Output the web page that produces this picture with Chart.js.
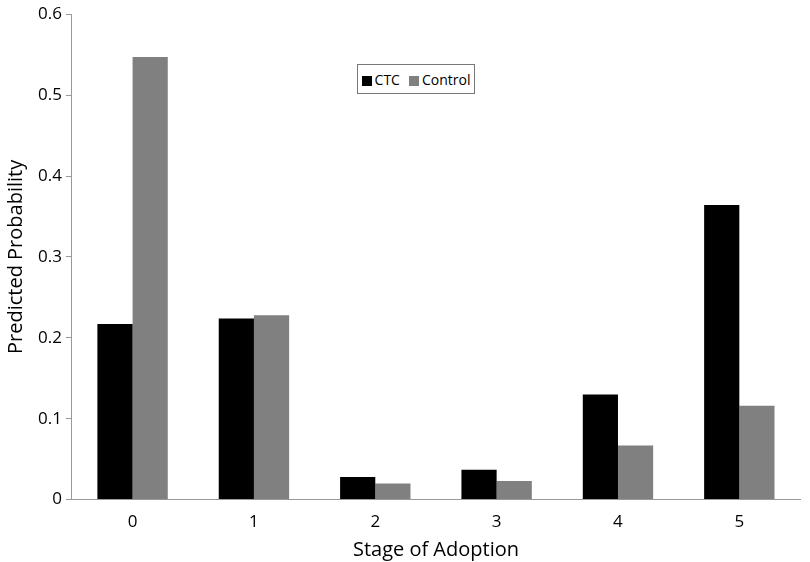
<!DOCTYPE html>
<html>
<head>
<meta charset="utf-8">
<script src="https://cdn.jsdelivr.net/npm/chart.js@4"></script>
<style>
  body { margin: 0; background: #fff; }
  #wrap { position: relative; width: 810px; height: 562px; }
  #legend {
    position: absolute; left: 357px; top: 64px; width: 118px; height: 30px;
    border: 1px solid #777; background: #fff; box-sizing: border-box;
    font-family: "Open Sans", sans-serif; font-size: 14px; color: #000;
    display: flex; align-items: center; justify-content: center; gap: 9px;
  }
  #legend span.sw { display: inline-block; width: 10px; height: 10px; margin-right: 3px; vertical-align: -1px; }
</style>
</head>
<body>
<div id="wrap">
  <canvas id="myChart" width="810" height="562"></canvas>
  <div id="legend"></div>
</div>
<script>
const stages = ["0", "1", "2", "3", "4", "5"];
const ctcValues = [0.217, 0.224, 0.028, 0.037, 0.130, 0.364];
const controlValues = [0.547, 0.228, 0.020, 0.023, 0.067, 0.116];
const seriesNames = ["CTC", "Control"];
const seriesColors = ["#000000", "#808080"];

function buildLegend() {
    const legend = document.getElementById('legend');
    legend.innerHTML = seriesNames.map((name, i) =>
        '<div><span class="sw" style="background:' + seriesColors[i] + '"></span>' + name + '</div>'
    ).join('');
}

document.addEventListener('DOMContentLoaded', function () {
    buildLegend();
    const axisFont = { family: "'Open Sans', sans-serif", size: 17 };
    const titleFont = { family: "'Open Sans', sans-serif", size: 20 };
    new Chart("myChart", {
        type: "bar",
        data: {
            labels: stages,
            datasets: [{
                label: seriesNames[0],
                data: ctcValues,
                backgroundColor: seriesColors[0]
            }, {
                label: seriesNames[1],
                data: controlValues,
                backgroundColor: seriesColors[1]
            }]
        },
        options: {
            responsive: false,
            animation: false,
            layout: { padding: { top: 0, right: 10, left: 0, bottom: 0 } },
            datasets: { bar: { categoryPercentage: 0.58, barPercentage: 1.0 } },
            plugins: { legend: { display: false }, tooltip: { enabled: false } },
            scales: {
                x: {
                    grid: { display: false, drawOnChartArea: false, offset: true, tickLength: 6, color: "#999" },
                    border: { color: "#999" },
                    ticks: { color: "#000", font: axisFont, padding: 6 },
                    title: { display: true, text: "Stage of Adoption", color: "#000", font: titleFont, padding: { top: 0, bottom: 0 } }
                },
                y: {
                    min: 0,
                    max: 0.6,
                    grid: { drawOnChartArea: false, tickLength: 6, color: "#999" },
                    border: { color: "#999" },
                    ticks: { stepSize: 0.1, color: "#000", font: axisFont, padding: 4 },
                    title: { display: true, text: "Predicted Probability", color: "#000", font: titleFont, padding: { bottom: 6 } }
                }
            }
        }
    });
});
</script>
</body>
</html>
